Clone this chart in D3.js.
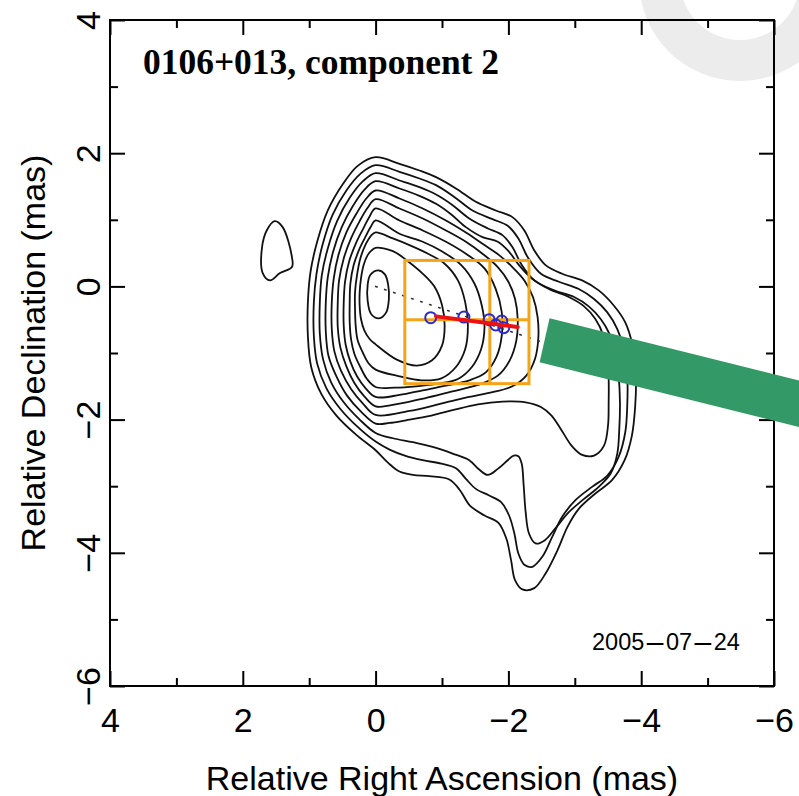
<!DOCTYPE html>
<html>
<head>
<meta charset="utf-8">
<script src="https://cdn.jsdelivr.net/npm/d3@7"></script>
<style>
body { margin: 0; background: #fff; }
</style>
</head>
<body>
<svg width="799" height="796" font-family="Liberation Sans"></svg>
<script>
// contour lines, outermost first, points are [RA offset, Dec offset] in mas
var contour1 = [[0,1.94],[-0.36,1.84],[-0.66,1.74],[-0.91,1.64],[-1.21,1.47],[-1.51,1.27],[-1.81,1.14],[-2.06,1.04],[-2.24,0.84],[-2.39,0.54],[-2.56,0.32],[-2.81,0.19],[-3.11,0.09],[-3.36,-0.06],[-3.59,-0.29],[-3.76,-0.54],[-3.87,-0.89],[-3.92,-1.34],[-3.91,-1.79],[-3.86,-2.24],[-3.75,-2.61],[-3.56,-2.91],[-3.31,-3.11],[-3.06,-3.34],[-2.89,-3.61],[-2.74,-3.96],[-2.56,-4.31],[-2.39,-4.53],[-2.21,-4.55],[-2.10,-4.41],[-2.04,-4.11],[-1.97,-3.79],[-1.85,-3.55],[-1.64,-3.44],[-1.42,-3.29],[-1.27,-3.06],[-1.11,-2.90],[-0.81,-2.85],[-0.56,-2.83],[-0.36,-2.78],[-0.19,-2.65],[0,-2.46],[0.29,-2.23],[0.59,-1.94],[0.82,-1.61],[0.97,-1.21],[1.02,-0.74],[1.02,-0.24],[0.98,0.22],[0.88,0.67],[0.72,1.14],[0.49,1.54],[0.27,1.81]];
var contour2 = [[0,1.82],[-0.36,1.72],[-0.66,1.62],[-0.91,1.52],[-1.19,1.34],[-1.46,1.14],[-1.76,1.01],[-1.99,0.91],[-2.15,0.72],[-2.29,0.44],[-2.49,0.19],[-2.76,0.07],[-3.06,-0.04],[-3.29,-0.19],[-3.49,-0.39],[-3.64,-0.64],[-3.74,-0.94],[-3.79,-1.34],[-3.79,-1.79],[-3.76,-2.19],[-3.66,-2.56],[-3.49,-2.84],[-3.26,-3.01],[-3.01,-3.21],[-2.81,-3.46],[-2.66,-3.76],[-2.51,-4.06],[-2.36,-4.21],[-2.24,-4.18],[-2.15,-4.01],[-2.09,-3.71],[-2.01,-3.44],[-1.89,-3.24],[-1.71,-3.14],[-1.51,-3.04],[-1.36,-2.89],[-1.21,-2.73],[-0.99,-2.66],[-0.71,-2.61],[-0.44,-2.54],[-0.21,-2.45],[0,-2.33],[0.27,-2.11],[0.53,-1.84],[0.74,-1.53],[0.88,-1.16],[0.93,-0.74],[0.93,-0.24],[0.89,0.19],[0.80,0.62],[0.65,1.07],[0.44,1.44],[0.23,1.69]];
var contour3 = [[0,1.70],[-0.36,1.59],[-0.66,1.49],[-0.91,1.38],[-1.16,1.22],[-1.41,1.02],[-1.69,0.87],[-1.91,0.77],[-2.06,0.59],[-2.19,0.34],[-2.39,0.09],[-2.69,-0.06],[-2.99,-0.16],[-3.21,-0.30],[-3.39,-0.49],[-3.52,-0.71],[-3.61,-0.99],[-3.66,-1.34],[-3.68,-1.74],[-3.67,-2.14],[-3.64,-2.51],[-3.54,-2.81],[-3.36,-3.01],[-3.14,-3.19],[-2.91,-3.39],[-2.71,-3.63],[-2.55,-3.81],[-2.41,-3.86],[-2.31,-3.71],[-2.26,-3.39],[-2.23,-2.99],[-2.20,-2.66],[-2.15,-2.55],[-2.08,-2.54],[-1.99,-2.61],[-1.84,-2.74],[-1.69,-2.83],[-1.56,-2.75],[-1.41,-2.61],[-1.16,-2.51],[-0.86,-2.41],[-0.56,-2.34],[-0.26,-2.28],[0,-2.20],[0.24,-2.00],[0.48,-1.74],[0.67,-1.44],[0.79,-1.10],[0.84,-0.71],[0.84,-0.24],[0.81,0.17],[0.72,0.57],[0.58,0.98],[0.39,1.33],[0.19,1.58]];
var contour4 = [[0,1.58],[-0.36,1.47],[-0.66,1.36],[-0.91,1.24],[-1.14,1.08],[-1.36,0.89],[-1.61,0.74],[-1.84,0.67],[-2.01,0.52],[-2.16,0.32],[-2.34,0.13],[-2.61,-0.04],[-2.91,-0.16],[-3.14,-0.30],[-3.31,-0.49],[-3.43,-0.74],[-3.49,-1.06],[-3.51,-1.39],[-3.51,-1.74],[-3.50,-2.09],[-3.44,-2.39],[-3.29,-2.54],[-3.11,-2.53],[-2.95,-2.39],[-2.80,-2.16],[-2.65,-1.94],[-2.49,-1.81],[-2.26,-1.74],[-1.91,-1.73],[-1.54,-1.77],[-1.19,-1.85],[-0.84,-1.94],[-0.46,-2.01],[-0.21,-2.05],[0,-2.06],[0.22,-1.88],[0.43,-1.64],[0.59,-1.35],[0.71,-1.04],[0.75,-0.68],[0.75,-0.24],[0.72,0.14],[0.64,0.52],[0.51,0.89],[0.34,1.21],[0.17,1.45]];
var contour5 = [[0,1.44],[-0.36,1.32],[-0.71,1.17],[-1.06,0.99],[-1.36,0.81],[-1.64,0.62],[-1.86,0.47],[-2.06,0.29],[-2.24,0.09],[-2.37,-0.16],[-2.44,-0.46],[-2.45,-0.79],[-2.40,-1.09],[-2.27,-1.34],[-2.06,-1.50],[-1.71,-1.60],[-1.31,-1.68],[-0.91,-1.78],[-0.51,-1.87],[0,-1.93],[0.19,-1.76],[0.37,-1.54],[0.52,-1.27],[0.62,-0.98],[0.66,-0.64],[0.66,-0.24],[0.63,0.12],[0.56,0.47],[0.44,0.81],[0.29,1.09],[0.14,1.32]];
var contour6 = [[0,1.31],[-0.36,1.17],[-0.71,1.02],[-1.06,0.84],[-1.36,0.67],[-1.61,0.49],[-1.84,0.29],[-2.00,0.07],[-2.10,-0.19],[-2.14,-0.49],[-2.12,-0.81],[-2.02,-1.11],[-1.84,-1.34],[-1.54,-1.48],[-1.14,-1.58],[-0.74,-1.68],[-0.36,-1.76],[0,-1.80],[0.17,-1.65],[0.32,-1.45],[0.44,-1.20],[0.53,-0.92],[0.57,-0.61],[0.57,-0.24],[0.55,0.09],[0.48,0.42],[0.37,0.72],[0.24,0.98],[0.12,1.18]];
var contour7 = [[0,1.17],[-0.36,0.99],[-0.71,0.84],[-1.06,0.67],[-1.36,0.49],[-1.64,0.27],[-1.81,-0.04],[-1.90,-0.39],[-1.90,-0.74],[-1.82,-1.06],[-1.66,-1.29],[-1.41,-1.41],[-1.06,-1.49],[-0.71,-1.56],[-0.36,-1.63],[0,-1.66],[0.15,-1.53],[0.28,-1.35],[0.38,-1.13],[0.45,-0.88],[0.48,-0.59],[0.48,-0.24],[0.46,0.07],[0.40,0.37],[0.30,0.64],[0.18,0.88],[0.09,1.05]];
var contour8 = [[0,0.99],[-0.36,0.79],[-0.71,0.67],[-1.01,0.52],[-1.29,0.32],[-1.49,0.04],[-1.60,-0.29],[-1.64,-0.61],[-1.59,-0.94],[-1.45,-1.21],[-1.24,-1.39],[-0.94,-1.46],[-0.61,-1.50],[-0.29,-1.52],[0,-1.51],[0.13,-1.39],[0.23,-1.21],[0.32,-1.01],[0.37,-0.79],[0.39,-0.54],[0.39,-0.24],[0.38,0.04],[0.33,0.32],[0.24,0.57],[0.14,0.77],[0.07,0.90]];
var contour9 = [[0,0.81],[-0.26,0.72],[-0.51,0.62],[-0.79,0.49],[-1.04,0.34],[-1.24,0.09],[-1.35,-0.24],[-1.39,-0.59],[-1.35,-0.94],[-1.21,-1.21],[-0.99,-1.38],[-0.69,-1.41],[-0.36,-1.35],[0,-1.25],[0.11,-1.15],[0.19,-1.00],[0.27,-0.81],[0.30,-0.59],[0.31,-0.34],[0.31,-0.09],[0.28,0.17],[0.23,0.42],[0.15,0.63],[0.07,0.76]];
var contour10 = [[0,0.58],[-0.26,0.53],[-0.47,0.39],[-0.70,0.20],[-0.89,-0.01],[-1.00,-0.28],[-1.04,-0.59],[-1.00,-0.89],[-0.85,-1.11],[-0.62,-1.19],[-0.32,-1.10],[0,-0.87],[0.09,-0.79],[0.17,-0.66],[0.22,-0.49],[0.24,-0.29],[0.24,-0.09],[0.22,0.12],[0.18,0.32],[0.12,0.47],[0.06,0.54]];
var contour11 = [[-0.04,0.24],[-0.14,0.18],[-0.19,0.02],[-0.20,-0.19],[-0.16,-0.39],[-0.05,-0.48],[0.07,-0.41],[0.12,-0.21],[0.12,0.02],[0.08,0.17]];
// small separate contour east of the core
var island = [[1.52,0.98],[1.40,0.89],[1.26,0.44],[1.26,0.29],[1.44,0.20],[1.59,0.09],[1.70,0.20],[1.71,0.59],[1.64,0.84]];

// model component positions (blue circles) and the fitted motion line
var compRA  = [-0.83,-1.33,-1.71,-1.81,-1.93,-1.90];
var compDec = [-0.47,-0.46,-0.50,-0.58,-0.62,-0.52];
var fitRA  = [-0.91,-2.14];
var fitDec = [-0.45,-0.61];
// dotted line from core
var trackRA  = [0,-2.55];
var trackDec = [0,-0.85];
// orange box grid edges
var boxRA  = [-0.44,-1.72,-2.31];
var boxDec = [0.39,-0.50,-1.46];
// green pointer bar corners
var barRA  = [-2.62,-7.9,-7.9,-2.47];
var barDec = [-0.48,-1.79,-2.49,-1.14];

var xMajor = [4,2,0,-2,-4,-6];
var xMinor = [3,1,-1,-3,-5];
var yMajor = [-6,-4,-2,0,2,4];
var yMinor = [-5,-3,-1,1,3];
var dateParts = ["2005","07","24"];

var svg = d3.select("svg");
var x = d3.scaleLinear().domain([4,-6]).range([110,774]);
var y = d3.scaleLinear().domain([-6,4]).range([686,20]);

// pale watermark ring in the corner
svg.append("path")
  .attr("transform","translate(740,-20)")
  .attr("d", d3.arc()({innerRadius:60, outerRadius:101, startAngle:0, endAngle:2*Math.PI}))
  .attr("fill","#ececec");

var contours = [contour1,contour2,contour3,contour4,contour5,contour6,contour7,contour8,contour9,contour10,contour11,island];
var line = d3.line()
  .x(function(d){ return x(d[0]); })
  .y(function(d){ return y(d[1]); })
  .curve(d3.curveCatmullRomClosed.alpha(0.5));

svg.append("g").selectAll("path")
  .data(contours)
  .join("path")
  .attr("d", line)
  .attr("fill","none")
  .attr("stroke","#111")
  .attr("stroke-width",1.8);

// axes: major and minor ticks pointing inward on all sides
function clean(g, labels){
  g.select(".domain").remove();
  g.selectAll("line").attr("stroke","#000").attr("stroke-width",2);
  if(!labels) g.selectAll("text").remove();
}
var fmt = d3.format("d");
svg.append("g").attr("transform","translate(0,686)")
  .call(d3.axisBottom(x).tickValues(xMajor).tickSize(-15).tickFormat(fmt))
  .call(clean,true)
  .attr("font-size",34).attr("font-family","Liberation Sans")
  .selectAll("text").attr("y",46).attr("dy",null).attr("fill","#000");
svg.append("g").attr("transform","translate(0,686)")
  .call(d3.axisBottom(x).tickValues(xMinor).tickSize(-8)).call(clean,false);
svg.append("g").attr("transform","translate(0,20)")
  .call(d3.axisTop(x).tickValues(xMajor).tickSize(-15)).call(clean,false);
svg.append("g").attr("transform","translate(0,20)")
  .call(d3.axisTop(x).tickValues(xMinor).tickSize(-8)).call(clean,false);
svg.append("g").attr("transform","translate(110,0)")
  .call(d3.axisLeft(y).tickValues(yMajor).tickSize(-15).tickFormat(fmt))
  .call(clean,true)
  .attr("font-size",34).attr("font-family","Liberation Sans")
  .selectAll("text").attr("x",0).attr("dy",null)
  .attr("text-anchor","middle")
  .attr("transform","translate(-10,0) rotate(-90)")
  .attr("fill","#000");
svg.append("g").attr("transform","translate(110,0)")
  .call(d3.axisLeft(y).tickValues(yMinor).tickSize(-8)).call(clean,false);
svg.append("g").attr("transform","translate(774,0)")
  .call(d3.axisRight(y).tickValues(yMajor).tickSize(-15)).call(clean,false);
svg.append("g").attr("transform","translate(774,0)")
  .call(d3.axisRight(y).tickValues(yMinor).tickSize(-8)).call(clean,false);

svg.append("rect")
  .attr("x",x(4)).attr("y",y(4))
  .attr("width",x(-6)-x(4)).attr("height",y(-6)-y(4))
  .attr("fill","none").attr("stroke","#000").attr("stroke-width",2);

// dotted track from the core
svg.append("line")
  .attr("x1",x(trackRA[0])).attr("y1",y(trackDec[0]))
  .attr("x2",x(trackRA[1])).attr("y2",y(trackDec[1]))
  .attr("stroke","#333").attr("stroke-width",1.6)
  .attr("stroke-dasharray","1.5,8").attr("stroke-linecap","round");

// orange box with cross lines
var orange = "#f5a41a";
svg.append("rect")
  .attr("x",x(boxRA[0])).attr("y",y(boxDec[0]))
  .attr("width",x(boxRA[2])-x(boxRA[0])).attr("height",y(boxDec[2])-y(boxDec[0]))
  .attr("fill","none").attr("stroke",orange).attr("stroke-width",3);
svg.append("line")
  .attr("x1",x(boxRA[1])).attr("x2",x(boxRA[1]))
  .attr("y1",y(boxDec[0])).attr("y2",y(boxDec[2]))
  .attr("stroke",orange).attr("stroke-width",3);
svg.append("line")
  .attr("x1",x(boxRA[0])).attr("x2",x(boxRA[2]))
  .attr("y1",y(boxDec[1])).attr("y2",y(boxDec[1]))
  .attr("stroke",orange).attr("stroke-width",3);

// component circles
svg.append("g").selectAll("circle")
  .data(compRA)
  .join("circle")
  .attr("cx",function(d){ return x(d); })
  .attr("cy",function(d,i){ return y(compDec[i]); })
  .attr("r",5.5)
  .attr("fill","none").attr("stroke","#2a2ad0").attr("stroke-width",2);

// red fitted line
svg.append("line")
  .attr("x1",x(fitRA[0])).attr("y1",y(fitDec[0]))
  .attr("x2",x(fitRA[1])).attr("y2",y(fitDec[1]))
  .attr("stroke","#ee1111").attr("stroke-width",4).attr("stroke-linecap","round");

// labels
svg.append("text")
  .attr("x",143).attr("y",74)
  .attr("font-family","Liberation Serif").attr("font-weight","bold").attr("font-size",35)
  .attr("textLength",356).attr("lengthAdjust","spacingAndGlyphs")
  .text("0106+013, component 2");

// date, with long dashes between the parts
var date = svg.append("text").attr("x",592).attr("y",650).attr("font-size",23.5);
dateParts.forEach(function(p,i){
  if(i>0) date.append("tspan").attr("font-size",30).attr("dx",2.5).attr("dy",2).text("\u2013");
  date.append("tspan").attr("dx",i>0?2.5:0).attr("dy",i>0?-2:0).text(p);
});

svg.append("text")
  .attr("x",442).attr("y",790).attr("text-anchor","middle")
  .attr("font-size",34)
  .text("Relative Right Ascension (mas)");
svg.append("text")
  .attr("transform","translate(45,353) rotate(-90)").attr("text-anchor","middle")
  .attr("font-size",34)
  .text("Relative Declination (mas)");

// green pointer bar on top
svg.append("path")
  .datum(d3.range(barRA.length))
  .attr("d", d3.line()
    .x(function(i){ return x(barRA[i]); })
    .y(function(i){ return y(barDec[i]); })
    .curve(d3.curveLinearClosed))
  .attr("fill","#339966");
</script>
</body>
</html>
